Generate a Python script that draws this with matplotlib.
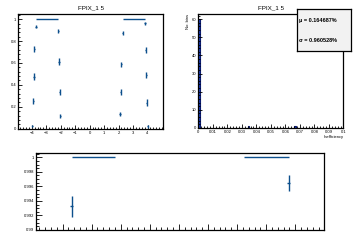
import matplotlib
matplotlib.use("Agg")
import matplotlib.pyplot as plt
from matplotlib.ticker import AutoMinorLocator

plt.rcParams['font.family'] = ['Liberation Sans', 'DejaVu Sans']

# ---- top-left: efficiency points ----
eff_x = [-3.96, -3.72, -3.82, -3.86, -3.89, -2.17, -2.13, -2.08, -2.03,
         2.11, 2.15, 2.20, 2.27, 3.82, 3.87, 3.91, 3.94, 4.0]
eff_y = [0.027, 0.932, 0.726, 0.475, 0.253, 0.893, 0.613, 0.335, 0.116,
         0.134, 0.336, 0.588, 0.871, 0.963, 0.717, 0.491, 0.238, 0.02]
eff_err = [0.01, 0.012, 0.03, 0.03, 0.03, 0.02, 0.03, 0.03, 0.02,
           0.02, 0.03, 0.025, 0.02, 0.015, 0.03, 0.03, 0.03, 0.01]
full_x = [-2.945, 3.055]
full_xerr = [0.755, 0.765]
full_y = [1.0, 1.0]
tl_xticks = [-4, -3, -2, -1, 0, 1, 2, 3, 4]
tl_yticks = [0, 0.2, 0.4, 0.6, 0.8, 1]

# ---- top-right: inefficiency histogram ----
hist_left = [0.0, 0.034, 0.066]
hist_counts = [60, 1, 1]
hist_width = 0.001
tr_xticks = [0, 0.01, 0.02, 0.03, 0.04, 0.05, 0.06, 0.07, 0.08, 0.09, 0.1]
tr_xlabels = ['0', '0.01', '0.02', '0.03', '0.04', '0.05', '0.06', '0.07', '0.08', '0.09', '0.1']
tr_yticks = [0, 10, 20, 30, 40, 50, 60]
stat_mu = "\u03bc = 0.164687%"
stat_sigma = "\u03c3 = 0.960528%"

# ---- bottom: zoomed efficiency ----
bot_x = [0.31, 7.77]
bot_y = [0.99324, 0.99653]
bot_yerr = [0.0015, 0.0011]
bot_full_x = [1.075, 7.01]
bot_full_xerr = [0.745, 0.77]
bot_full_y = [1.0, 1.0]
bot_yticks = [0.99, 0.992, 0.994, 0.996, 0.998, 1.0]
bot_ylabels = ['0.99', '0.992', '0.994', '0.996', '0.998', '1']

blue = '#0c4f8c'
fs = 3.0

fig = plt.figure(figsize=(3.6, 2.4), dpi=100)

def style(ax):
    for s in ax.spines.values():
        s.set_linewidth(0.9)
    ax.tick_params(which='both', direction='in', top=False, right=False,
                   labelsize=fs, width=0.6, pad=1.5)
    ax.tick_params(which='major', length=3)
    ax.tick_params(which='minor', length=1.5)

# top-left
ax1 = fig.add_axes([0.051, 0.464, 0.403, 0.478])
ax1.errorbar(eff_x, eff_y, yerr=eff_err, xerr=0.05, fmt='none', ecolor=blue, elinewidth=1.0)
ax1.errorbar(full_x, full_y, xerr=full_xerr, fmt='none', ecolor=blue, elinewidth=1.0)
ax1.set_xlim(-4.93, 5.1)
ax1.set_ylim(0, 1.048)
ax1.set_xticks(tl_xticks)
ax1.set_yticks(tl_yticks)
ax1.set_yticklabels(['0', '0.2', '0.4', '0.6', '0.8', '1'])
ax1.xaxis.set_minor_locator(AutoMinorLocator(5))
ax1.yaxis.set_minor_locator(AutoMinorLocator(5))
style(ax1)
ax1.set_title("FPIX_1 5", fontsize=4.5, pad=3)

# top-right
ax2 = fig.add_axes([0.551, 0.4667, 0.403, 0.475])
ax2.bar(hist_left, hist_counts, width=hist_width, align='edge',
        color='#1a3fc0', edgecolor='#0a1a70', linewidth=0.8)
ax2.set_xlim(0, 0.1)
ax2.set_ylim(0, 62.9)
ax2.set_xticks(tr_xticks)
ax2.set_xticklabels(tr_xlabels)
ax2.set_yticks(tr_yticks)
ax2.xaxis.set_minor_locator(AutoMinorLocator(5))
ax2.yaxis.set_minor_locator(AutoMinorLocator(5))
style(ax2)
ax2.set_title("FPIX_1 5", fontsize=4.5, pad=3)
ax2.set_xlabel("Inefficiency", fontsize=fs, loc='right', labelpad=0.5)
ax2.set_ylabel("No. bins", fontsize=fs, loc='top', labelpad=1)

# stats box
box = fig.add_axes([0.824, 0.7875, 0.151, 0.1738])
box.set_xticks([]); box.set_yticks([])
box.set_facecolor('#f2f2f2')
for s in box.spines.values():
    s.set_linewidth(0.9)
box.text(0.05, 0.73, stat_mu, fontsize=4.0, fontweight='bold', va='center', transform=box.transAxes)
box.text(0.05, 0.25, stat_sigma, fontsize=4.0, fontweight='bold', va='center', transform=box.transAxes)

# bottom
ax3 = fig.add_axes([0.101, 0.0417, 0.8, 0.3196])
ax3.errorbar(bot_x, bot_y, yerr=bot_yerr, xerr=0.05, fmt='none', ecolor=blue, elinewidth=1.0)
ax3.errorbar(bot_full_x, bot_full_y, xerr=bot_full_xerr, fmt='none', ecolor=blue, elinewidth=1.0)
ax3.set_xlim(-0.9, 9.0)
ax3.set_ylim(0.99, 1.00055)
ax3.set_xticks(range(0, 9))
ax3.set_xticklabels([''] * 9)
ax3.set_yticks(bot_yticks)
ax3.set_yticklabels(bot_ylabels)
ax3.xaxis.set_minor_locator(AutoMinorLocator(5))
ax3.yaxis.set_minor_locator(AutoMinorLocator(4))
style(ax3)
ax3.tick_params(which='major', length=4)
ax3.tick_params(which='minor', length=2)

fig.savefig("out.png", dpi=100)
